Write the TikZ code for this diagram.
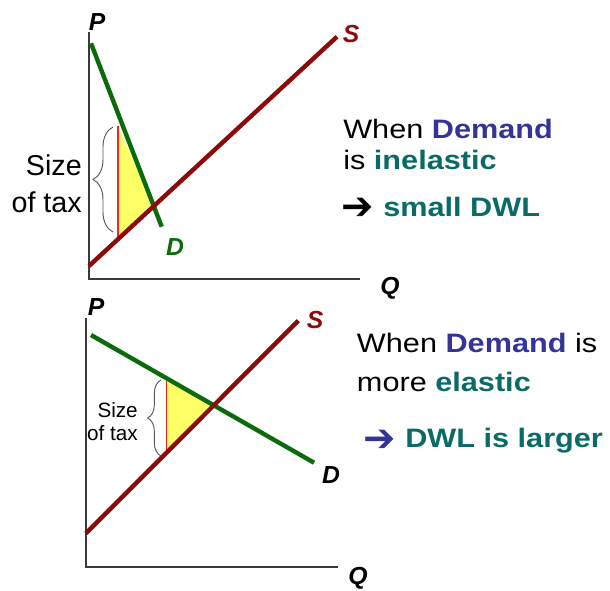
\documentclass[tikz,border=0pt]{standalone}
\usepackage{fontspec}
\setmainfont{Liberation Sans}
\newfontfamily\widefont[FakeStretch=1.15]{Liberation Sans}
\newfontfamily\symfont{DejaVu Sans}
\usetikzlibrary{decorations.pathreplacing}
\definecolor{demandGreen}{HTML}{0B6B0B}
\definecolor{supplyRed}{HTML}{8B0A0A}
\definecolor{demandBlue}{HTML}{333399}
\definecolor{elasticTeal}{HTML}{0A6B66}
\definecolor{axisGrey}{HTML}{3A3A3A}
\definecolor{dwlYellow}{HTML}{FFFF66}
\definecolor{taxRed}{HTML}{FF2020}

\begin{document}
\begin{tikzpicture}[x=0.75pt, y=-0.75pt,
    axis/.style={draw=axisGrey, line width=1.4pt},
    demand/.style={draw=demandGreen, line width=3.3pt},
    supply/.style={draw=supplyRed, line width=3.3pt},
    taxline/.style={draw=taxRed, line width=0.9pt},
    axislabel/.style={font=\fontsize{18.5}{20}\selectfont\bfseries\itshape, inner sep=0},
    taxbrace/.style={draw=axisGrey!85, line width=0.7pt, decorate,
                     decoration={brace, amplitude=#1}},
    caption/.style={font=\widefont\fontsize{20}{24}\selectfont, inner sep=0, anchor=base west},
    pointer/.style={font=\symfont\fontsize{29}{30}\selectfont, inner sep=0, anchor=base west}]
  \useasboundingbox (0,0) rectangle (610,591);

  % inelastic demand
  \coordinate (o1) at (89,279);
  \coordinate (dA1) at (91,43.3);
  \coordinate (dB1) at (161.7,226.7);
  \coordinate (sA1) at (89,266);
  \coordinate (sB1) at (337,36.7);
  \coordinate (eq1) at (154,206.4);
  \coordinate (tt1) at (118,126.5);
  \coordinate (tb1) at (118,240.5);
  \fill[dwlYellow] (tt1) -- (eq1) -- (tb1) -- cycle;
  \draw[taxline] (tt1) -- (tb1);
  \draw[axis] (89,32) -- (o1) -- (360,279);
  \draw[demand] (dA1) -- (dB1);
  \draw[supply] (sA1) -- (sB1);
  \draw[taxbrace=15pt] (113,232) -- (113,127);
  \node[font=\fontsize{21.5}{27.75}\selectfont, align=right, inner sep=0, anchor=east]
    (tax1) at (82,183.5) {Size\\of tax};
  \node[axislabel] (p1) at (97,22) {P};
  \node[axislabel] (q1) at (390,288) {Q};
  \node[axislabel, text=supplyRed] (s1) at (351,34) {S};
  \node[axislabel, text=demandGreen] (d1) at (175,247) {D};

  \node[caption] (when1) at (343,139) {When \textbf{\color{demandBlue}Demand}};
  \node[caption] (is1) at (343,170) {is \textbf{\color{elasticTeal}inelastic}};
  \node[pointer] (arrow1) at (341,220) {➔};
  \node[caption] (dwl1) at (383,216.7) {\textbf{\color{elasticTeal}small DWL}};

  % more elastic demand
  \coordinate (o2) at (86,567);
  \coordinate (dA2) at (91,335);
  \coordinate (dB2) at (314,462.7);
  \coordinate (sA2) at (86,533.3);
  \coordinate (sB2) at (298.3,320.7);
  \coordinate (eq2) at (214,405.2);
  \coordinate (tt2) at (166.7,377.5);
  \coordinate (tb2) at (166.7,453);
  \fill[dwlYellow] (tt2) -- (eq2) -- (tb2) -- cycle;
  \draw[taxline] (tt2) -- (tb2);
  \draw[axis] (86,318) -- (o2) -- (338,567);
  \draw[demand] (dA2) -- (dB2);
  \draw[supply] (sA2) -- (sB2);
  \draw[taxbrace=10pt] (161,456) -- (161,380);
  \node[font=\fontsize{15.5}{17.25}\selectfont, align=right, inner sep=0, anchor=east]
    (tax2) at (138,421.5) {Size\\of tax};
  \node[axislabel] (p2) at (96,307) {P};
  \node[axislabel] (q2) at (358,578) {Q};
  \node[axislabel, text=supplyRed] (s2) at (315,320) {S};
  \node[axislabel] (d2) at (331,475) {D};

  \node[caption] (when2) at (356.7,352.3) {When \textbf{\color{demandBlue}Demand} is};
  \node[caption] (more2) at (356.7,391.7) {more \textbf{\color{elasticTeal}elastic}};
  \node[pointer, text=demandBlue] (arrow2) at (363,451) {➔};
  \node[caption] (dwl2) at (405,447.7) {\textbf{\color{elasticTeal}DWL is larger}};
\end{tikzpicture}
\end{document}
